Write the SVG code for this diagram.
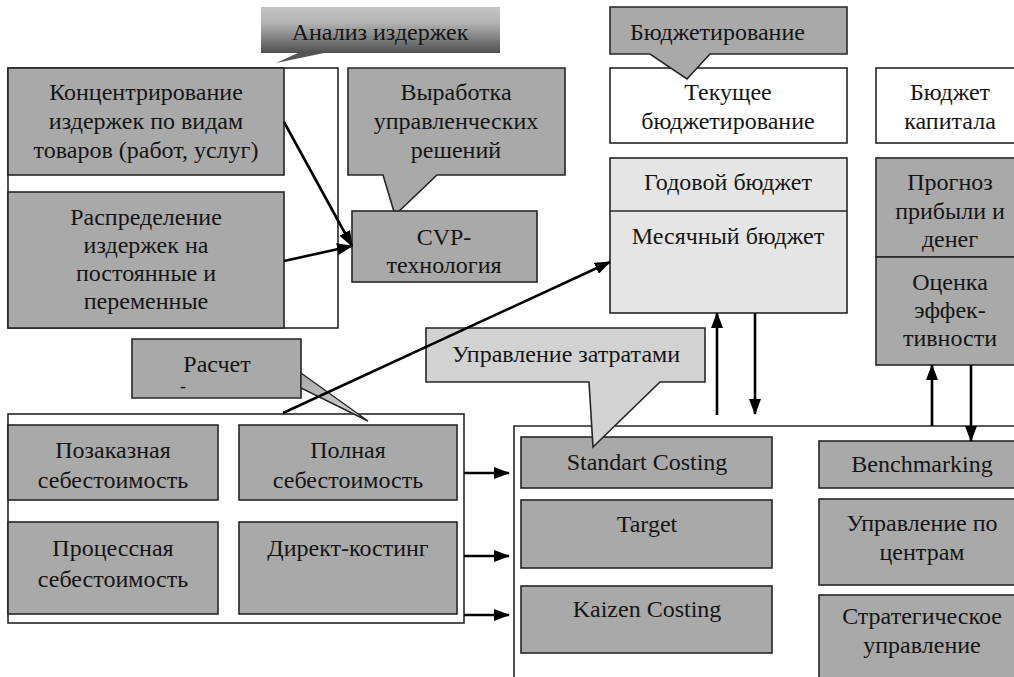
<svg xmlns="http://www.w3.org/2000/svg" width="1014" height="677" viewBox="0 0 1014 677">
<defs>
<linearGradient id="gAn" x1="0" y1="0" x2="0" y2="1">
<stop offset="0" stop-color="#c4c4c4"/>
<stop offset="0.35" stop-color="#b2b2b2"/>
<stop offset="1" stop-color="#505050"/>
</linearGradient>
<linearGradient id="gRc" x1="0" y1="0" x2="1" y2="1">
<stop offset="0" stop-color="#a8a8a8"/>
<stop offset="1" stop-color="#d8d8d8"/>
</linearGradient>
<marker id="ah" markerUnits="userSpaceOnUse" markerWidth="16" markerHeight="12" refX="15" refY="6" orient="auto">
<path d="M0,0 L16,6 L0,12 Z" fill="#000"/>
</marker>
</defs>
<style>
.bx{stroke:#262626;stroke-width:1.6}
.g{fill:#a9a9a9}
.w{fill:#fff}
.lg{fill:#e5e5e5}
.t{font-family:"Liberation Serif","DejaVu Serif",serif;font-size:24px;fill:#151515;text-anchor:middle}
.tl{text-anchor:start}
.c{stroke:#000;stroke-width:2.6;fill:none;marker-end:url(#ah)}
</style>

<g id="analiz-outer"><rect class="bx w" x="8" y="68" width="330" height="260"/></g>
<g id="konc">
<rect class="bx g" x="8" y="68" width="276" height="107"/>
<text class="t" x="146" y="100">Концентрирование</text>
<text class="t" x="146" y="129">издержек по видам</text>
<text class="t" x="146" y="158">товаров (работ, услуг)</text>
</g>
<g id="raspr">
<rect class="bx g" x="8" y="192" width="276" height="136"/>
<text class="t" x="146" y="225">Распределение</text>
<text class="t" x="146" y="253">издержек на</text>
<text class="t" x="146" y="281">постоянные и</text>
<text class="t" x="146" y="309">переменные</text>
</g>
<g id="analiz-callout">
<rect x="261" y="7" width="239" height="46" fill="url(#gAn)"/>
<polygon points="298,53 276,63 324,53" fill="#555"/>
<text class="t" x="380" y="40">Анализ издержек</text>
</g>
<g id="vyrabotka">
<path class="bx g" d="M348,68 H565 V175 H437 L395,215 L383,175 H348 Z"/>
<text class="t" x="456" y="100">Выработка</text>
<text class="t" x="456" y="129">управленческих</text>
<text class="t" x="456" y="158">решений</text>
</g>
<g id="cvp">
<rect class="bx g" x="352" y="211" width="185" height="71"/>
<text class="t" x="444" y="245">CVP-</text>
<text class="t" x="444" y="273">технология</text>
</g>

<g id="tekushchee">
<rect class="bx w" x="610" y="68" width="237" height="75"/>
<text class="t" x="728" y="100">Текущее</text>
<text class="t" x="728" y="129">бюджетирование</text>
</g>
<g id="budzhetirovanie">
<path class="bx g" d="M610,7 H847 V54 H710 L687,79 L650,54 H610 Z"/>
<text class="t tl" x="630" y="40">Бюджетирование</text>
</g>
<g id="godovoy">
<rect class="bx lg" x="610" y="158" width="237" height="155"/>
<line class="bx" x1="610" y1="211" x2="847" y2="211"/>
<text class="t" x="728" y="190">Годовой бюджет</text>
<text class="t" x="728" y="244">Месячный бюджет</text>
</g>
<g id="kapital">
<rect class="bx w" x="876" y="68" width="142" height="75"/>
<text class="t" x="950" y="100">Бюджет</text>
<text class="t" x="950" y="129">капитала</text>
</g>
<g id="prognoz">
<rect class="bx g" x="876" y="158" width="142" height="99"/>
<text class="t" x="950" y="190">Прогноз</text>
<text class="t" x="950" y="219">прибыли и</text>
<text class="t" x="950" y="247">денег</text>
</g>
<g id="ocenka">
<rect class="bx g" x="876" y="257" width="142" height="108"/>
<text class="t" x="950" y="290">Оценка</text>
<text class="t" x="950" y="318">эффек-</text>
<text class="t" x="950" y="346">тивности</text>
</g>

<g id="raschet-outer"><rect class="bx w" x="8" y="414" width="456" height="209"/></g>
<g id="pozakaz">
<rect class="bx g" x="8" y="425" width="210" height="75"/>
<text class="t" x="113" y="458">Позаказная</text>
<text class="t" x="113" y="488">себестоимость</text>
</g>
<g id="polnaya">
<rect class="bx g" x="239" y="425" width="218" height="75"/>
<text class="t" x="348" y="458">Полная</text>
<text class="t" x="348" y="488">себестоимость</text>
</g>
<g id="process">
<rect class="bx g" x="8" y="522" width="210" height="92"/>
<text class="t" x="113" y="556">Процессная</text>
<text class="t" x="113" y="587">себестоимость</text>
</g>
<g id="direct">
<rect class="bx g" x="239" y="522" width="218" height="92"/>
<text class="t" x="348" y="556">Директ-костинг</text>
</g>
<g id="raschet-callout">
<path class="bx g" d="M132,339 H301 V398 H132 Z"/>
<path d="M301,373 L368,421 L301,388 Z" fill="url(#gRc)" stroke="#262626" stroke-width="1.4"/>
<text class="t" x="217" y="372">Расчет</text>
<text class="t" x="183" y="392" style="font-size:18px">-</text>
</g>

<g id="upr-outer"><path class="bx" fill="none" d="M1018,426 H514 V680"/></g>
<g id="standart">
<rect class="bx g" x="521" y="437" width="251" height="51"/>
<text class="t" x="647" y="470">Standart Costing</text>
</g>
<g id="target">
<rect class="bx g" x="521" y="500" width="251" height="68"/>
<text class="t" x="647" y="532">Target</text>
</g>
<g id="kaizen">
<rect class="bx g" x="521" y="586" width="251" height="67"/>
<text class="t" x="647" y="617">Kaizen Costing</text>
</g>
<g id="upr-callout">
<path class="bx" fill="#d2d2d2" d="M426,328 H705 V382 H660 L593,447 L589,382 H426 Z"/>
<text class="t" x="566" y="362">Управление затратами</text>
</g>
<g id="bench">
<rect class="bx g" x="819" y="441" width="199" height="47"/>
<text class="t" x="922" y="472">Benchmarking</text>
</g>
<g id="centry">
<rect class="bx g" x="819" y="499" width="199" height="86"/>
<text class="t" x="922" y="531">Управление по</text>
<text class="t" x="922" y="560">центрам</text>
</g>
<g id="strateg">
<rect class="bx g" x="819" y="595" width="199" height="90"/>
<text class="t" x="922" y="624">Стратегическое</text>
<text class="t" x="922" y="653">управление</text>
</g>

<g id="connectors">
<line class="c" x1="284" y1="122" x2="352" y2="246"/>
<line class="c" x1="284" y1="261" x2="352" y2="246"/>
<line class="c" x1="283" y1="413" x2="610" y2="262"/>
<line class="c" x1="717" y1="415" x2="717" y2="313"/>
<line class="c" x1="755" y1="313" x2="755" y2="414"/>
<line class="c" x1="464" y1="473" x2="509" y2="473"/>
<line class="c" x1="464" y1="556" x2="509" y2="556"/>
<line class="c" x1="464" y1="615" x2="509" y2="615"/>
<line class="c" x1="932" y1="426" x2="932" y2="365"/>
<line class="c" x1="971" y1="365" x2="971" y2="441"/>
</g>
</svg>
